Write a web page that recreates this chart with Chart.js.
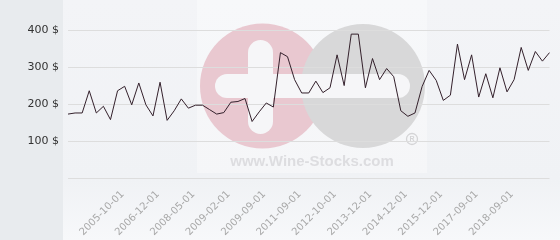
<!DOCTYPE html>
<html>
<head>
<meta charset="utf-8">
<script src="https://cdn.jsdelivr.net/npm/chart.js@4/dist/chart.umd.min.js"></script>
<style>
  body { margin: 0; background: #ffffff; }
  canvas { display: block; }
</style>
</head>
<body>
<canvas id="chart" width="560" height="240"></canvas>
<script>
// prix moyen par vente, en $
const prices = [
  174, 177, 177, 237, 177, 195, 159, 237, 249, 199,
  258, 199, 169, 260, 157, 183, 215, 190, 198, 198,
  186, 174, 178, 206, 208, 216, 154, 180, 204, 193,
  340, 329, 267, 231, 231, 263, 232, 245, 334, 251,
  390, 390, 245, 324, 267, 297, 275, 183, 168, 177,
  248, 292, 265, 211, 225, 363, 267, 334, 220, 283,
  218, 299, 234, 267, 354, 292, 343, 317, 340,
];

// dates visibles sur l'axe (une vente sur cinq, à partir de la 8e)
const tickDates = [
  '2005-10-01', '2006-12-01', '2008-05-01', '2009-02-01', '2009-09-01', '2011-09-01',
  '2012-10-01', '2013-12-01', '2014-12-01', '2015-12-01', '2017-09-01', '2018-09-01',
];
const firstTick = 7;
const tickEvery = 5;

const yTicks = [0, 100, 200, 300, 400];

const labels = prices.map((_, i) => {
  const k = (i - firstTick) / tickEvery;
  return Number.isInteger(k) && k >= 0 ? (tickDates[k] || '') : '';
});

function pillH(ctx, x1, x2, yc, r) {
  ctx.beginPath();
  ctx.arc(x1 + r, yc, r, Math.PI / 2, Math.PI * 1.5);
  ctx.arc(x2 - r, yc, r, -Math.PI / 2, Math.PI / 2);
  ctx.closePath();
  ctx.fill();
}

function pillV(ctx, xc, y1, y2, r) {
  ctx.beginPath();
  ctx.arc(xc, y1 + r, r, Math.PI, 0);
  ctx.arc(xc, y2 - r, r, 0, Math.PI);
  ctx.closePath();
  ctx.fill();
}

// fond + filigrane Wine-Stocks
const backdrop = {
  id: 'backdrop',
  beforeDraw(chart) {
    const { ctx, width, height } = chart;
    ctx.save();
    const g = ctx.createLinearGradient(0, 0, 0, height);
    g.addColorStop(0, '#f3f4f7');
    g.addColorStop(0.75, '#f0f2f5');
    g.addColorStop(1, '#f7f8fa');
    ctx.fillStyle = g;
    ctx.fillRect(63, 0, width - 63, height);
    ctx.fillStyle = '#e8ebee';
    ctx.fillRect(0, 0, 63, height);

    ctx.fillStyle = 'rgba(255,255,255,0.35)';
    ctx.fillRect(197, 0, 230, 173);

    ctx.fillStyle = '#e9c8d0';
    ctx.beginPath();
    ctx.arc(262.5, 86, 62.5, 0, Math.PI * 2);
    ctx.fill();
    ctx.fillStyle = '#d8d8d9';
    ctx.beginPath();
    ctx.arc(363, 86, 62, 0, Math.PI * 2);
    ctx.fill();

    ctx.fillStyle = '#f6f6f8';
    pillH(ctx, 215, 410, 86, 12);
    pillV(ctx, 260.5, 40, 134, 12.5);

    ctx.strokeStyle = '#d4d4d6';
    ctx.lineWidth = 1.3;
    ctx.beginPath();
    ctx.arc(412, 139, 5.5, 0, Math.PI * 2);
    ctx.stroke();
    ctx.fillStyle = '#d4d4d6';
    ctx.font = 'bold 7px "Liberation Sans"';
    ctx.textAlign = 'center';
    ctx.textBaseline = 'middle';
    ctx.fillText('R', 412, 139.5);

    ctx.fillStyle = '#dddde0';
    ctx.font = 'bold 15px "Liberation Sans"';
    ctx.textBaseline = 'alphabetic';
    ctx.fillText('www.Wine-Stocks.com', 312, 166);
    ctx.restore();
  },
};

new Chart(document.getElementById('chart'), {
  type: 'line',
  data: {
    labels,
    datasets: [{
      data: prices,
      borderColor: '#33202b',
      borderWidth: 1,
      pointRadius: 0,
      tension: 0,
      fill: false,
    }],
  },
  options: {
    responsive: false,
    animation: false,
    layout: { padding: { top: 2, right: 5 } },
    plugins: { legend: { display: false }, tooltip: { enabled: false } },
    scales: {
      x: {
        offset: false,
        grid: { display: false },
        border: { display: false },
        afterFit: (axis) => { axis.height = 61.5; },
        ticks: {
          autoSkip: false,
          minRotation: 45,
          maxRotation: 45,
          padding: 2,
          labelOffset: 5,
          color: '#a8a8a8',
          font: { family: 'DejaVu Sans', size: 10 },
        },
      },
      y: {
        min: 0,
        max: 440,
        afterBuildTicks: (axis) => {
          axis.ticks = yTicks.map((v) => ({ value: v }));
        },
        afterFit: (axis) => { axis.width = 68; },
        grid: { color: '#dddddd', drawTicks: false },
        border: { display: false },
        ticks: {
          padding: 9,
          color: '#333333',
          font: { family: 'DejaVu Sans', size: 11 },
          callback: (v) => (v === 0 ? '' : v + ' $'),
        },
      },
    },
  },
  plugins: [backdrop],
});
</script>
</body>
</html>
